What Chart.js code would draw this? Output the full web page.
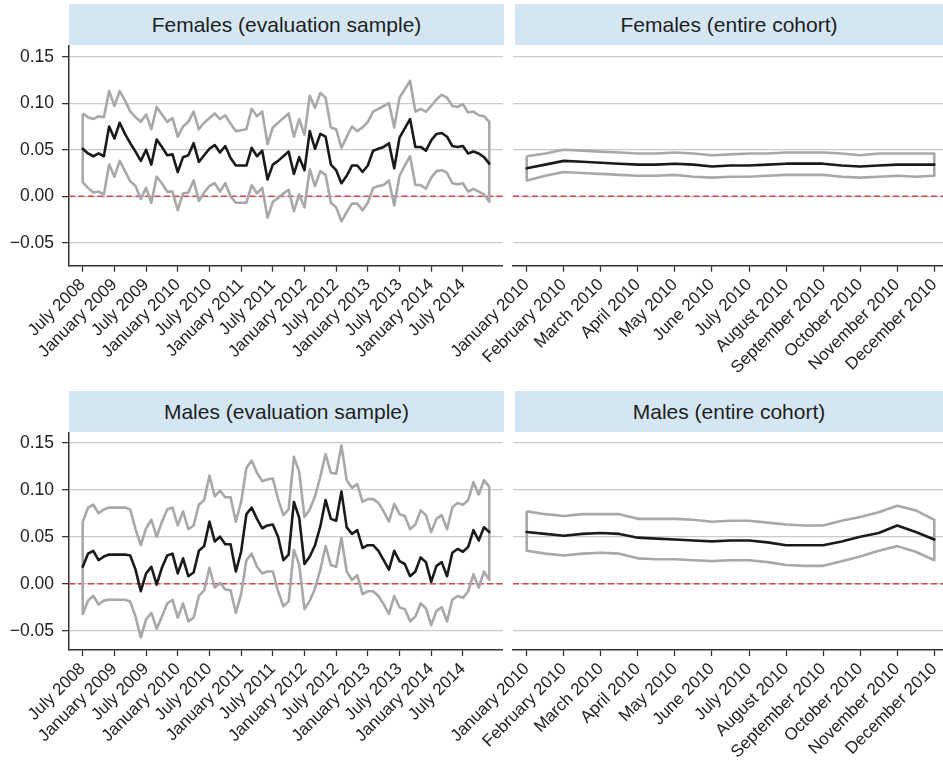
<!DOCTYPE html>
<html><head><meta charset="utf-8">
<script src="https://cdn.jsdelivr.net/npm/chart.js@4.4.0/dist/chart.umd.min.js"></script>
<style>
body{margin:0;background:#fff;width:943px;height:769px;position:relative;overflow:hidden;font-family:"Liberation Sans",Arial,sans-serif;}
.hdr{position:absolute;background:#d4e6f1;color:#1e1e1e;font-size:21px;text-align:center;line-height:41px;height:41px;white-space:nowrap;}
canvas{position:absolute;}
</style></head><body>
<div class="hdr" style="left:69px;top:4px;width:435px">Females (evaluation sample)</div>
<div class="hdr" style="left:515px;top:4px;width:428px">Females (entire cohort)</div>
<div class="hdr" style="left:69px;top:391px;width:435px">Males (evaluation sample)</div>
<div class="hdr" style="left:515px;top:391px;width:428px">Males (entire cohort)</div>
<canvas id="c1" width="503" height="340" style="left:0;top:45px"></canvas>
<canvas id="c2" width="503" height="340" style="left:440px;top:45px"></canvas>
<canvas id="c3" width="503" height="337" style="left:0;top:432px"></canvas>
<canvas id="c4" width="503" height="337" style="left:440px;top:432px"></canvas>
<script>
// ---- tick labels ----
const evalTickMonths = [0,6,12,18,24,30,36,42,48,54,60,66,72];
const evalTickLabels = ["July 2008","January 2009","July 2009","January 2010","July 2010","January 2011","July 2011","January 2012","July 2012","January 2013","July 2013","January 2014","July 2014"];
const cohortTickMonths = [0,1,2,3,4,5,6,7,8,9,10,11];
const cohortTickLabels = ["January 2010","February 2010","March 2010","April 2010","May 2010","June 2010","July 2010","August 2010","September 2010","October 2010","November 2010","December 2010"];
const yTickVals = [-0.05, 0, 0.05, 0.10, 0.15];

// ---- Females, evaluation sample (monthly, July 2008 - Dec 2014) ----
const femEvalMid = [0.051,0.046,0.043,0.046,0.043,0.075,0.062,0.079,0.067,0.057,
0.048,0.038,0.050,0.034,0.061,0.053,0.044,0.045,0.026,0.042,
0.044,0.057,0.037,0.044,0.051,0.055,0.047,0.054,0.041,0.033,
0.033,0.033,0.052,0.043,0.049,0.018,0.034,0.038,0.043,0.048,
0.024,0.042,0.028,0.070,0.051,0.067,0.064,0.034,0.028,0.014,
0.022,0.033,0.033,0.026,0.033,0.049,0.051,0.053,0.057,0.030,
0.063,0.073,0.083,0.053,0.053,0.049,0.060,0.067,0.068,0.064,
0.054,0.053,0.054,0.046,0.048,0.046,0.042,0.035];
const femEvalHi = [0.089,0.085,0.083,0.086,0.085,0.113,0.097,0.113,0.103,0.091,
0.085,0.080,0.088,0.072,0.096,0.088,0.080,0.084,0.064,0.075,
0.080,0.091,0.072,0.079,0.084,0.089,0.083,0.087,0.078,0.070,
0.071,0.072,0.094,0.086,0.091,0.056,0.074,0.079,0.084,0.089,
0.064,0.083,0.066,0.108,0.095,0.111,0.106,0.074,0.072,0.052,
0.064,0.075,0.070,0.074,0.080,0.091,0.094,0.097,0.100,0.074,
0.106,0.115,0.124,0.091,0.094,0.091,0.097,0.104,0.109,0.106,
0.097,0.096,0.099,0.090,0.091,0.087,0.086,0.080];
const femEvalLo = [0.015,0.009,0.004,0.005,0.002,0.034,0.021,0.038,0.027,0.016,
0.011,-0.003,0.009,-0.007,0.021,0.014,0.005,0.005,-0.015,0.003,
0.004,0.017,-0.005,0.004,0.011,0.014,0.005,0.014,0.000,-0.007,
-0.007,-0.007,0.012,0.003,0.009,-0.023,-0.006,-0.002,0.003,0.007,
-0.016,0.002,-0.012,0.029,0.011,0.027,0.023,-0.007,-0.012,-0.027,
-0.017,-0.008,-0.008,-0.015,-0.007,0.009,0.011,0.012,0.017,-0.010,
0.022,0.033,0.043,0.012,0.012,0.008,0.020,0.027,0.028,0.025,
0.014,0.013,0.014,0.005,0.008,0.005,0.002,-0.006];

// ---- Males, evaluation sample ----
const maleEvalMid = [0.018,0.032,0.035,0.025,0.029,0.031,0.031,0.031,0.031,0.030,
0.015,-0.008,0.011,0.018,-0.001,0.017,0.030,0.032,0.011,0.027,
0.008,0.012,0.035,0.040,0.066,0.045,0.050,0.042,0.042,0.013,
0.034,0.074,0.081,0.069,0.059,0.062,0.063,0.050,0.025,0.031,
0.087,0.070,0.021,0.029,0.041,0.061,0.089,0.069,0.067,0.098,
0.060,0.053,0.057,0.038,0.041,0.041,0.035,0.025,0.015,0.035,
0.024,0.021,0.008,0.013,0.028,0.023,0.002,0.019,0.023,0.008,
0.033,0.037,0.034,0.039,0.057,0.046,0.060,0.055];
const maleEvalHi = [0.066,0.081,0.084,0.075,0.079,0.081,0.081,0.081,0.081,0.079,
0.058,0.041,0.059,0.068,0.050,0.066,0.079,0.081,0.062,0.077,
0.058,0.062,0.084,0.089,0.115,0.093,0.099,0.092,0.092,0.066,
0.087,0.123,0.131,0.118,0.109,0.111,0.112,0.090,0.073,0.079,
0.135,0.119,0.071,0.079,0.093,0.114,0.138,0.118,0.117,0.147,
0.110,0.102,0.106,0.087,0.090,0.090,0.086,0.077,0.066,0.085,
0.074,0.072,0.058,0.063,0.078,0.073,0.055,0.069,0.073,0.058,
0.081,0.086,0.084,0.089,0.108,0.095,0.110,0.103];
const maleEvalLo = [-0.032,-0.018,-0.013,-0.022,-0.018,-0.017,-0.017,-0.017,-0.017,-0.019,
-0.035,-0.057,-0.038,-0.031,-0.048,-0.035,-0.021,-0.017,-0.036,-0.021,
-0.040,-0.036,-0.013,-0.007,0.017,-0.004,0.001,-0.006,-0.007,-0.031,
-0.011,0.025,0.032,0.018,0.011,0.013,0.013,-0.008,-0.024,-0.019,
0.036,0.020,-0.027,-0.018,-0.005,0.015,0.040,0.020,0.018,0.049,
0.013,0.004,0.009,-0.011,-0.008,-0.008,-0.013,-0.022,-0.032,-0.013,
-0.025,-0.027,-0.040,-0.035,-0.021,-0.026,-0.044,-0.029,-0.025,-0.040,
-0.017,-0.013,-0.015,-0.008,0.010,-0.004,0.013,0.004];

// ---- Entire cohort (half-monthly, Jan 2010 - Dec 2010) ----
const cohortMonths = [0,0.5,1,1.5,2,2.5,3,3.5,4,4.5,5,5.5,6,6.5,7,7.5,8,8.5,9,9.5,10,10.5,11];
const femCohortMid = [0.030,0.034,0.038,0.037,0.036,0.035,0.034,0.034,0.035,0.034,0.032,0.033,0.033,0.034,0.035,0.035,0.035,0.033,0.032,0.033,0.034,0.034,0.034];
const femCohortHi  = [0.043,0.046,0.050,0.049,0.048,0.047,0.046,0.046,0.047,0.046,0.044,0.045,0.046,0.046,0.047,0.047,0.047,0.046,0.044,0.046,0.046,0.046,0.046];
const femCohortLo  = [0.017,0.022,0.026,0.025,0.024,0.023,0.022,0.022,0.023,0.021,0.020,0.021,0.021,0.022,0.023,0.023,0.023,0.021,0.020,0.021,0.022,0.021,0.022];
const maleCohortMid = [0.055,0.053,0.051,0.053,0.054,0.053,0.049,0.048,0.047,0.046,0.045,0.046,0.046,0.044,0.041,0.041,0.041,0.045,0.050,0.054,0.062,0.055,0.047];
const maleCohortHi  = [0.077,0.074,0.072,0.074,0.074,0.074,0.069,0.069,0.069,0.068,0.066,0.067,0.067,0.065,0.063,0.062,0.062,0.067,0.071,0.076,0.083,0.078,0.068];
const maleCohortLo  = [0.035,0.032,0.030,0.032,0.033,0.032,0.027,0.026,0.026,0.025,0.024,0.025,0.025,0.023,0.020,0.019,0.019,0.024,0.029,0.035,0.040,0.034,0.025];

const evalMonths = femEvalMid.map((_, i) => i);
const FONT = '"Liberation Sans", Arial, sans-serif';

function fmt(v) { return (v < -1e-9 ? '\u2212' : '') + Math.abs(v).toFixed(2); }
function zeroPad(s) { s.paddingTop = 0; s.paddingBottom = 0; s.paddingLeft = 0; s.paddingRight = 0; }

function panel(id, c) {
  const cv = document.getElementById(id);
  const pts = (arr) => arr.map((v, i) => ({x: c.x[i], y: v}));
  const band = pts(c.hi).concat(pts(c.lo).reverse());
  band.push(band[0]);
  const zero = [{x: c.xMin, y: 0}, {x: c.xMax, y: 0}];
  new Chart(cv, {
    type: 'line',
    data: {datasets: [
      {data: pts(c.mid), borderColor: '#1a1a1a', borderWidth: 2.6, pointRadius: 0, tension: 0, borderJoinStyle: 'round', borderCapStyle: 'round'},
      {data: band, borderColor: '#a8a8aa', borderWidth: 2.6, pointRadius: 0, tension: 0, borderJoinStyle: 'round'},
      {data: zero, borderColor: '#d24a47', borderWidth: 1.3, borderDash: [6, 3.5], pointRadius: 0}
    ]},
    options: {
      responsive: false, animation: false, devicePixelRatio: 1,
      layout: {padding: 0, autoPadding: false},
      plugins: {legend: {display: false}, tooltip: {enabled: false}},
      scales: {
        x: {type: 'linear', min: c.xMin, max: c.xMax,
          afterBuildTicks: s => { s.ticks = c.ticks.map(v => ({value: v})); },
          afterFit: s => { s.height = cv.height - c.areaBottom; zeroPad(s); },
          ticks: {autoSkip: false, minRotation: 45, maxRotation: 45, padding: 3, color: '#222',
                  font: {family: FONT, size: 17}, callback: v => c.labels[c.ticks.indexOf(v)]},
          grid: {drawOnChartArea: false, drawTicks: true, tickLength: 6, tickColor: '#333', tickWidth: 1.3},
          border: {display: true, color: '#333', width: 1.5}},
        y: {type: 'linear', min: c.yMin, max: c.yMax,
          afterBuildTicks: s => { s.ticks = yTickVals.map(v => ({value: v})); },
          afterFit: s => { s.width = c.yWidth; zeroPad(s); },
          ticks: {display: c.showY, padding: 8, color: '#222', font: {family: FONT, size: 17.5}, callback: v => fmt(v)},
          grid: {color: '#cacaca', lineWidth: 1.3, drawTicks: c.showY, tickLength: 7, tickColor: '#333', tickWidth: 1.3},
          border: {display: c.showY, color: '#333', width: 1.5}}
      }
    }
  });
}

panel('c1', {x: evalMonths, mid: femEvalMid, hi: femEvalHi, lo: femEvalLo, xMin: -2.6, xMax: 79.6,
  ticks: evalTickMonths, labels: evalTickLabels, yMin: -0.0747, yMax: 0.1626, areaBottom: 220.7, yWidth: 69, showY: true});
panel('c2', {x: cohortMonths, mid: femCohortMid, hi: femCohortHi, lo: femCohortLo, xMin: -0.37, xMax: 11.235,
  ticks: cohortTickMonths, labels: cohortTickLabels, yMin: -0.0747, yMax: 0.1626, areaBottom: 220.7, yWidth: 73, showY: false});
panel('c3', {x: evalMonths, mid: maleEvalMid, hi: maleEvalHi, lo: maleEvalLo, xMin: -2.6, xMax: 79.6,
  ticks: evalTickMonths, labels: evalTickLabels, yMin: -0.0705, yMax: 0.1614, areaBottom: 218, yWidth: 69, showY: true});
panel('c4', {x: cohortMonths, mid: maleCohortMid, hi: maleCohortHi, lo: maleCohortLo, xMin: -0.37, xMax: 11.235,
  ticks: cohortTickMonths, labels: cohortTickLabels, yMin: -0.0705, yMax: 0.1614, areaBottom: 218, yWidth: 73, showY: false});
</script>
</body></html>
